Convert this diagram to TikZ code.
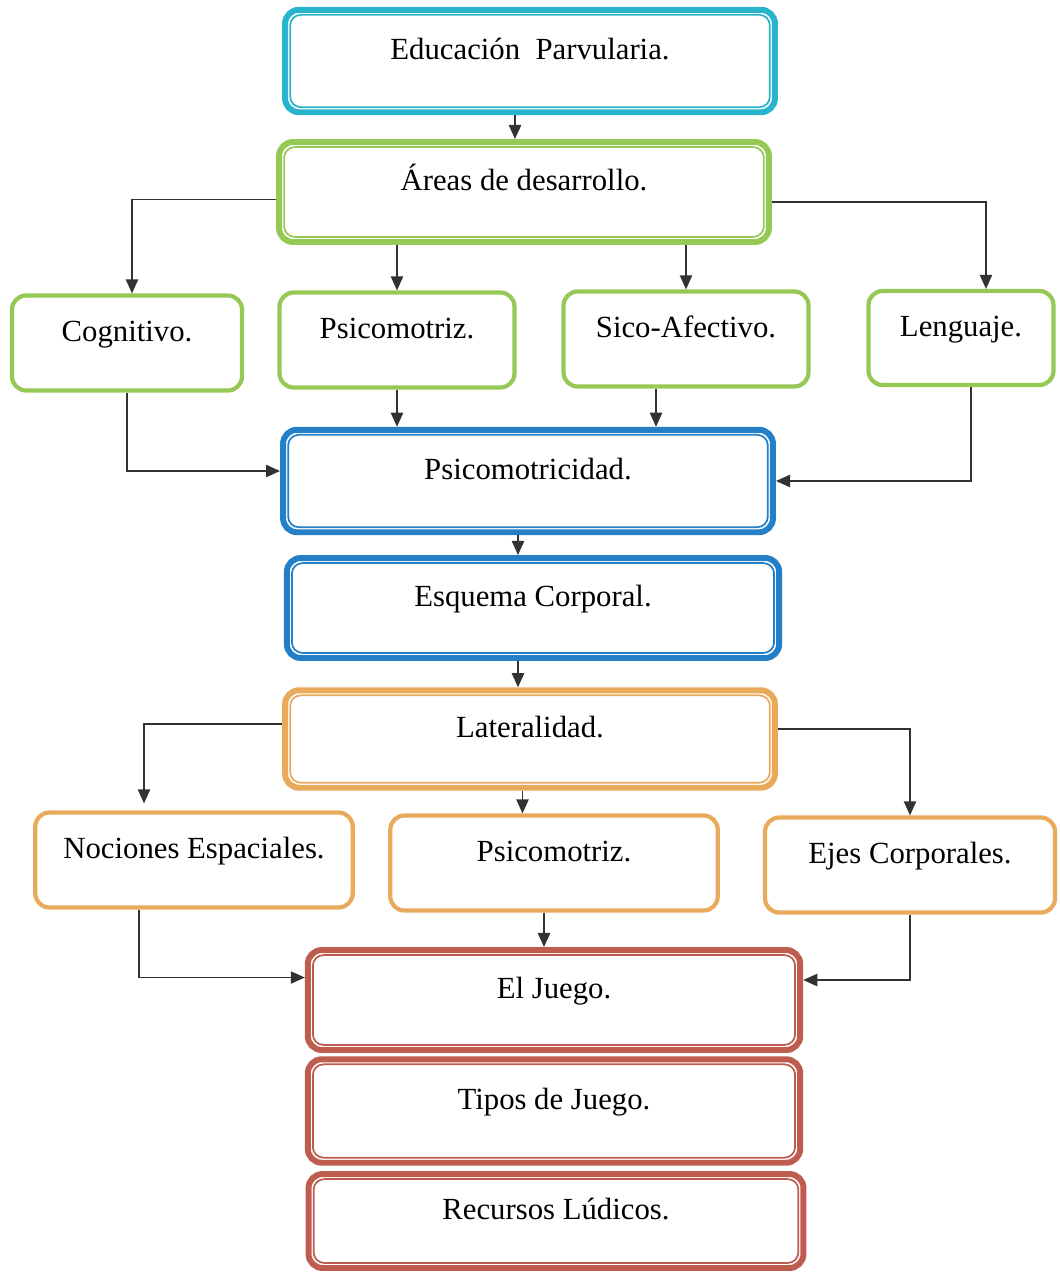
\documentclass[tikz,border=0pt]{standalone}
\usepackage{fontspec}
\setmainfont{Liberation Serif}
\usetikzlibrary{arrows.meta,positioning}

\definecolor{cyanbox}{RGB}{40,180,205}
\definecolor{greenbox}{RGB}{150,200,85}
\definecolor{bluebox}{RGB}{35,128,200}
\definecolor{orangebox}{RGB}{233,170,92}
\definecolor{redbox}{RGB}{190,92,80}
\definecolor{arrowgray}{RGB}{50,50,50}

\tikzstyle{areabox} = [rectangle, rounded corners=8pt, line width=2.4pt, align=center, font=\fontsize{17.5}{20}\selectfont, text height=12pt, text depth=14pt]
\tikzstyle{link} = [draw=arrowgray, line width=0.8pt, -{Triangle[width=7pt,length=8pt]}]
\tikzset{mainbox/.style={areabox, draw=#1, line width=3.4pt,
    append after command={\pgfextra{\draw[#1, line width=1pt, rounded corners=6pt]
      ([shift={(4.6pt,-4.6pt)}]\tikzlastnode.north west) rectangle ([shift={(-4.6pt,4.6pt)}]\tikzlastnode.south east);}}}}

\begin{document}
\begin{tikzpicture}[x=0.02cm, y=-0.02cm]
        \useasboundingbox (0,0) rectangle (1059,1275);

        \node [mainbox=cyanbox, minimum width=9.8cm, minimum height=2.05cm] (edu) at (530,61) {Educación\enspace Parvularia.};
        \node [mainbox=greenbox, minimum width=9.8cm, minimum height=2.0cm] (areas) at (524,192) {Áreas de desarrollo.};

        \node [areabox, draw=greenbox, minimum width=4.6cm, minimum height=1.9cm] (cog) at (127,343) {Cognitivo.};
        \node [areabox, draw=greenbox, minimum width=4.7cm, minimum height=1.9cm] (psi) at (397,340) {Psicomotriz.};
        \node [areabox, draw=greenbox, minimum width=4.9cm, minimum height=1.9cm] (sico) at (686,339) {Sico-Afectivo.};
        \node [areabox, draw=greenbox, minimum width=3.7cm, minimum height=1.88cm] (leng) at (961,338) {Lenguaje.};

        \node [mainbox=bluebox, minimum width=9.8cm, minimum height=2.05cm] (psidad) at (528,481) {Psicomotricidad.};
        \node [mainbox=bluebox, minimum width=9.85cm, minimum height=2.0cm] (esq) at (533,608) {Esquema Corporal.};
        \node [mainbox=orangebox, minimum width=9.8cm, minimum height=1.95cm] (lat) at (530,739) {Lateralidad.};

        \node [areabox, draw=orangebox, minimum width=6.35cm, minimum height=1.9cm] (noc) at (194,860) {Nociones Espaciales.};
        \node [areabox, draw=orangebox, minimum width=6.55cm, minimum height=1.9cm] (psi2) at (554,863) {Psicomotriz.};
        \node [areabox, draw=orangebox, minimum width=5.8cm, minimum height=1.9cm] (ejes) at (910,865) {Ejes Corporales.};

        \node [mainbox=redbox, minimum width=9.85cm, minimum height=2.0cm] (juego) at (554,1000) {El Juego.};
        \node [mainbox=redbox, minimum width=9.85cm, minimum height=2.07cm] (tipos) at (554,1111) {Tipos de Juego.};
        \node [mainbox=redbox, minimum width=9.9cm, minimum height=1.88cm] (recursos) at (556,1221) {Recursos Lúdicos.};

        \draw [link] ([xshift=-0.3cm]edu.south) -- ([xshift=-0.3cm]edu.south |- areas.north);
        \draw [link] ([yshift=-0.15cm]areas.west) -| ([xshift=0.1cm]cog.north);
        \draw [link] (psi.north |- areas.south) -- (psi.north);
        \draw [link] (sico.north |- areas.south) -- (sico.north);
        \draw [link] ([yshift=-0.2cm]areas.east) -| ([xshift=0.5cm]leng.north);

        \draw [link] (cog.south) |- ([yshift=0.2cm]psidad.west);
        \draw [link] (psi.south) -- (psi.south |- psidad.north);
        \draw [link] ([xshift=-0.6cm]sico.south) -- ([xshift=-0.6cm]sico.south |- psidad.north);
        \draw [link] ([xshift=0.2cm]leng.south) |- (psidad.east);

        \draw [link] ([xshift=-0.2cm]psidad.south) -- ([xshift=-0.2cm]psidad.south |- esq.north);
        \draw [link] ([xshift=-0.3cm]esq.south) -- ([xshift=-0.3cm]esq.south |- lat.north);

        \draw [link, shorten >=4pt] ([yshift=0.3cm]lat.west) -| ([xshift=-1cm]noc.north);
        \draw [link] ([xshift=-0.15cm]lat.south) -- ([xshift=-0.15cm]lat.south |- psi2.north);
        \draw [link] ([yshift=0.2cm]lat.east) -| (ejes.north);

        \draw [link] ([xshift=-1.1cm]noc.south) |- ([yshift=0.45cm]juego.west);
        \draw [link] ([xshift=-0.2cm]psi2.south) -- ([xshift=-0.2cm]psi2.south |- juego.north);
        \draw [link] (ejes.south) |- ([yshift=0.4cm]juego.east);

    \end{tikzpicture}
\end{document}
